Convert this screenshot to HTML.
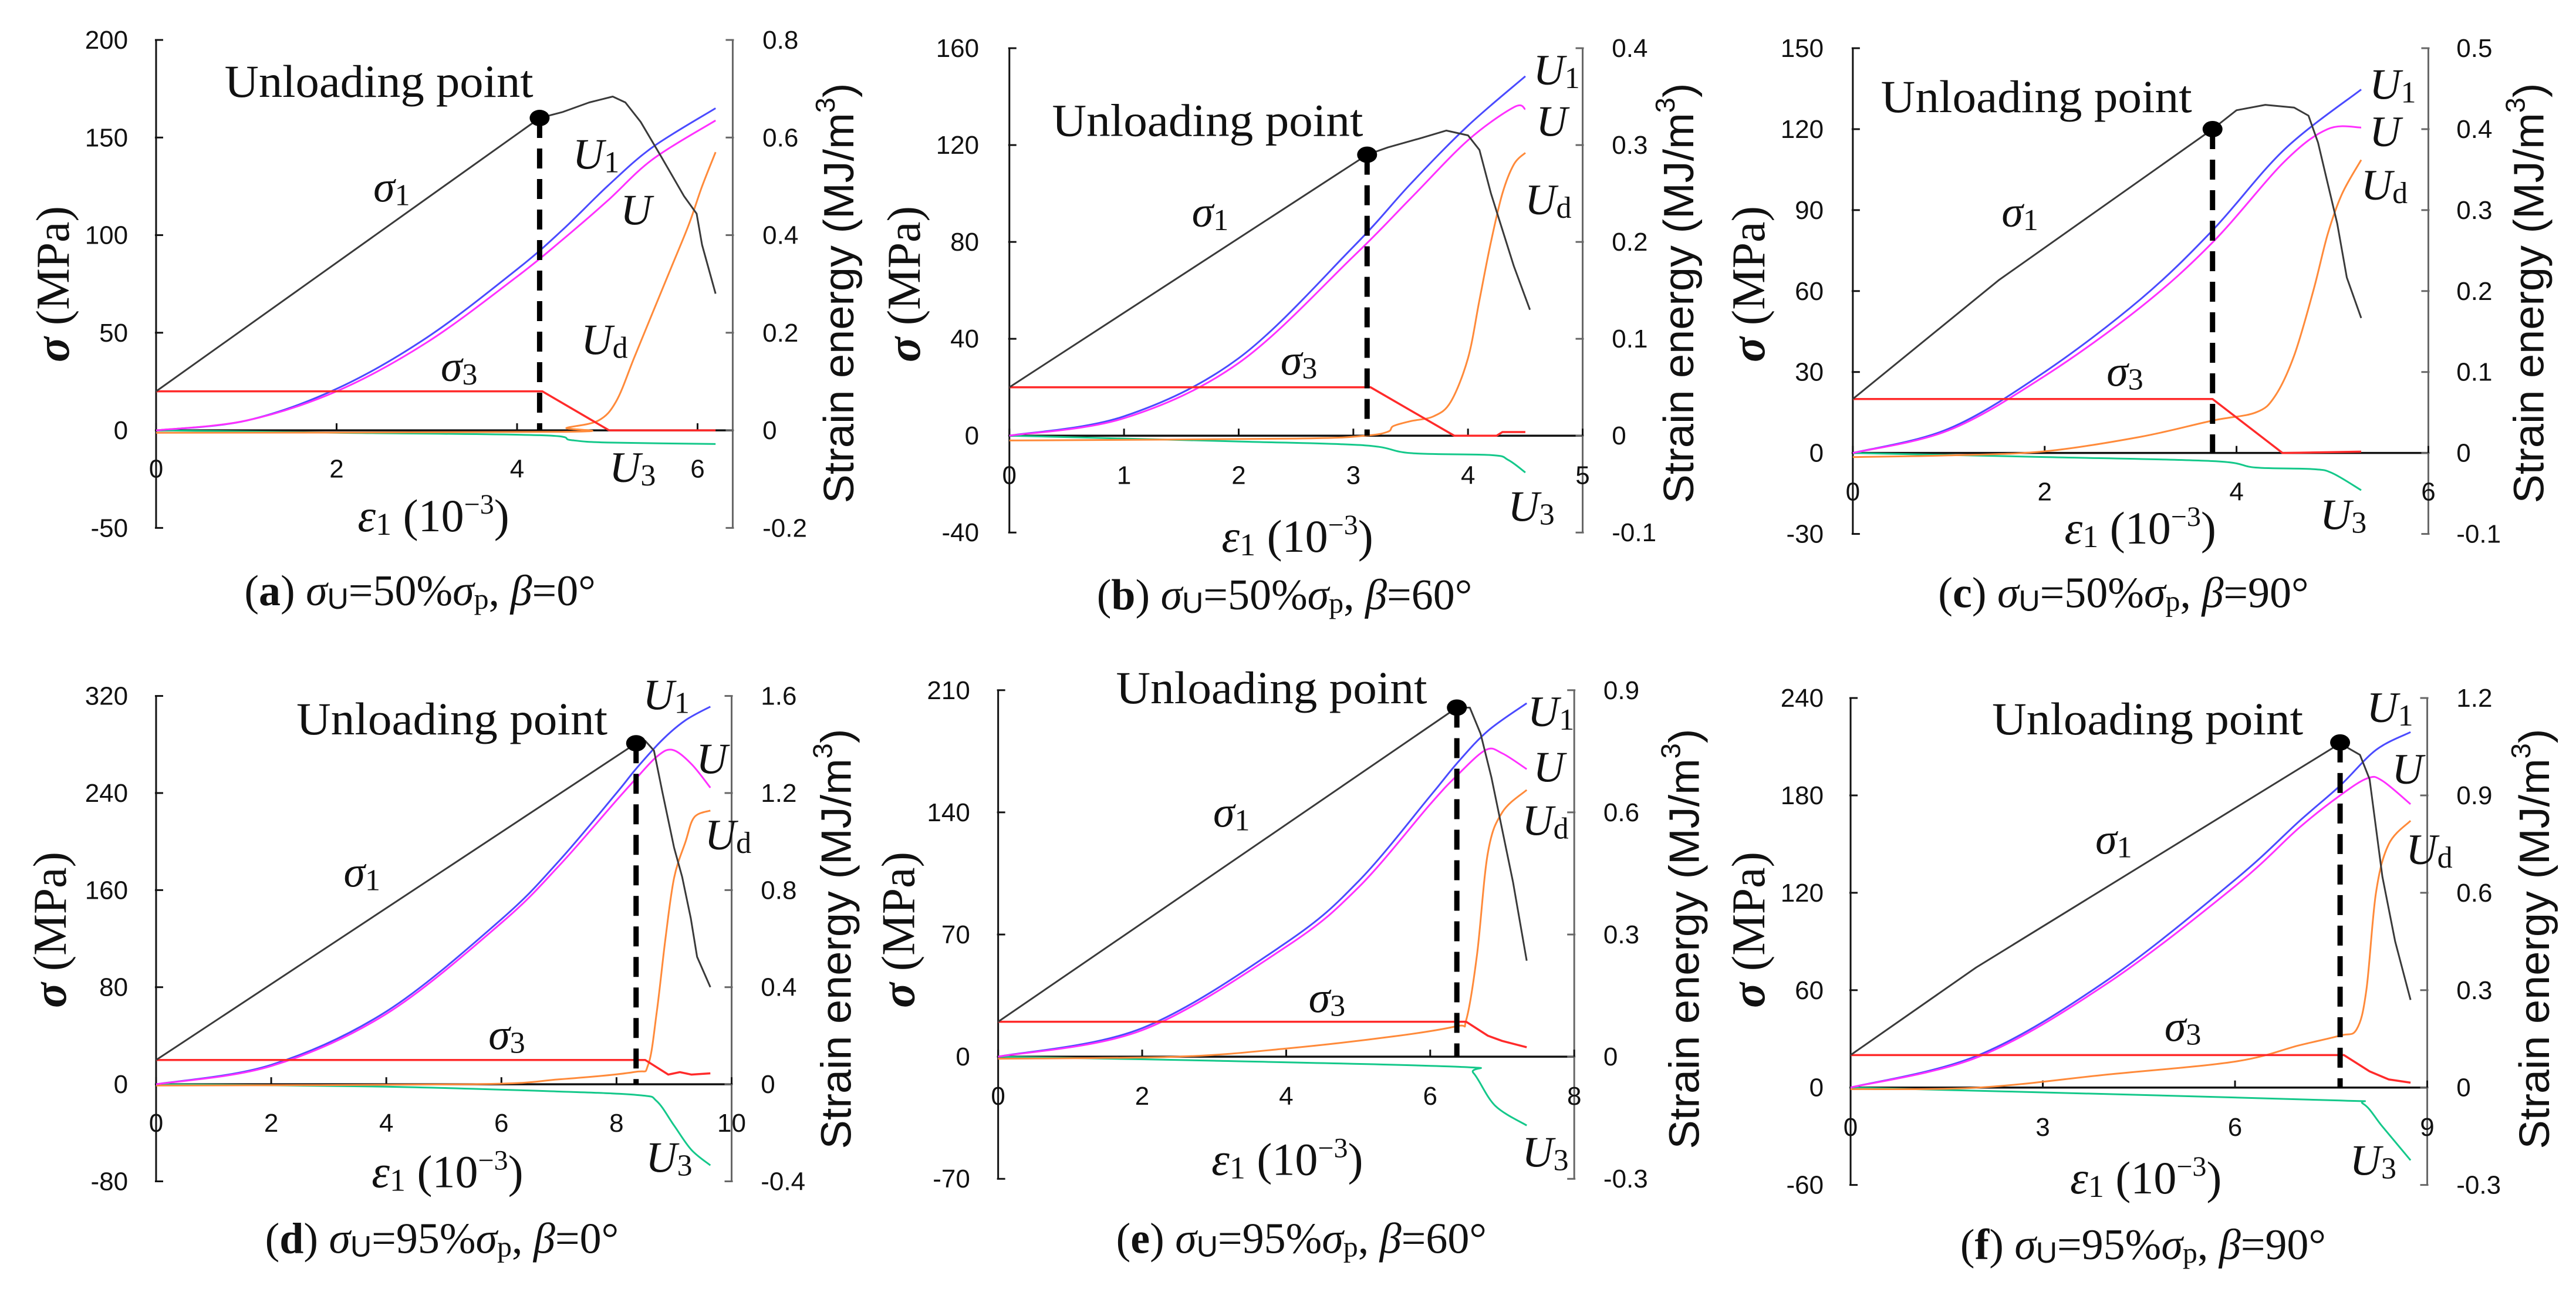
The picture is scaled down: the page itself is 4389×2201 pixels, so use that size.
<!DOCTYPE html>
<html><head><meta charset="utf-8"><style>
html,body{margin:0;padding:0;background:#fff;}
svg{display:block;}
text{font-family:"Liberation Serif",serif;fill:#111;}
.sans{font-family:"Liberation Sans",sans-serif;}
</style></head><body>
<svg id="fig" xmlns="http://www.w3.org/2000/svg" width="4389" height="2201" viewBox="0 0 4389 2201">
<rect width="4389" height="2201" fill="#fff"/>
</svg>
<script>
// ---------- DATA (strain in 1e-3, stress in MPa, energy in MJ/m3) ----------
const a_sig1=[[0,20],[4.25,160],[4.5,163],[4.8,168],[5.06,171],[5.2,168],[5.37,158],[5.6,140],[5.85,120],[5.99,111],[6.05,95],[6.2,70]];
const a_sig3=[[0,20],[4.28,20],[5.02,0],[6.2,0]];
const a_U1=[[0,0],[1,0.02],[2,0.085],[3,0.19],[4,0.33],[4.5,0.41],[5,0.5],[5.5,0.58],[6.2,0.66]];
const a_U=[[0,0],[1,0.02],[2,0.08],[3,0.18],[4,0.315],[4.5,0.39],[5,0.47],[5.5,0.555],[6.2,0.635]];
const a_Ud=[[0,-0.005],[4.5,-0.003],[4.55,0.005],[4.9,0.02],[5.1,0.06],[5.3,0.15],[5.5,0.24],[5.7,0.33],[5.9,0.42],[6.05,0.5],[6.2,0.57]];
const a_U3=[[0,0],[2,-0.005],[4.25,-0.01],[4.6,-0.02],[5,-0.025],[6.2,-0.028]];
const a_unload=[4.25,160];

const b_sig1=[[0,20],[3.12,116],[3.3,119],[3.6,123],[3.81,126],[4.0,124],[4.1,118],[4.2,100],[4.3,85],[4.4,70],[4.54,52]];
const b_sig3=[[0,20],[3.15,20],[3.88,0],[4.25,0],[4.3,1.5],[4.5,1.5]];
const b_U1=[[0,0],[1,0.02],[2,0.08],[3,0.195],[3.5,0.26],[4,0.32],[4.5,0.371]];
const b_U=[[0,0],[1,0.018],[2,0.075],[3,0.185],[3.5,0.245],[4,0.305],[4.4,0.339],[4.5,0.337]];
const b_Ud=[[0,-0.005],[2.5,-0.003],[3.1,0],[3.3,0.004],[3.35,0.01],[3.5,0.015],[3.7,0.02],[3.85,0.035],[4.0,0.08],[4.1,0.14],[4.2,0.2],[4.3,0.25],[4.4,0.28],[4.5,0.292]];
const b_U3=[[0,0],[2,-0.006],[3.1,-0.01],[3.5,-0.018],[4.2,-0.02],[4.35,-0.025],[4.5,-0.038]];
const b_unload=[3.12,116];

const c_sig1=[[0,20],[1.52,64],[3.75,120],[4.0,127],[4.3,129],[4.6,128],[4.75,125],[4.85,115],[4.95,100],[5.05,85],[5.15,65],[5.3,50]];
const c_sig3=[[0,20],[3.75,20],[4.48,0],[5.3,0.5]];
const c_U1=[[0,0],[1,0.03],[2,0.1],[3,0.19],[3.75,0.275],[4.5,0.375],[5.3,0.449]];
const c_U=[[0,0],[1,0.028],[2,0.095],[3,0.18],[3.75,0.26],[4.5,0.36],[4.95,0.4],[5.3,0.402]];
const c_Ud=[[0,-0.005],[1,-0.003],[2,0.002],[3,0.02],[3.75,0.04],[4.2,0.05],[4.4,0.07],[4.6,0.12],[4.8,0.2],[4.95,0.27],[5.1,0.32],[5.3,0.362]];
const c_U3=[[0,0],[2,-0.005],[3.75,-0.01],[4.2,-0.018],[4.8,-0.02],[5.0,-0.025],[5.3,-0.046]];
const c_unload=[3.75,120];

const d_sig1=[[0,20],[8.34,281],[8.5,283],[8.65,275],[8.8,240],[9.0,195],[9.14,171],[9.29,137],[9.4,105],[9.63,80]];
const d_sig3=[[0,20],[8.5,20],[8.9,8],[9.1,10],[9.3,8],[9.63,9]];
const d_U1=[[0,0],[2,0.08],[4,0.3],[6,0.68],[7,0.92],[8,1.2],[8.34,1.3],[8.8,1.42],[9.2,1.5],[9.63,1.556]];
const d_U=[[0,0],[2,0.075],[4,0.29],[6,0.665],[7,0.9],[8,1.17],[8.34,1.26],[8.7,1.35],[8.97,1.378],[9.3,1.32],[9.63,1.222]];
const d_Ud=[[0,-0.005],[5.5,0],[7,0.02],[8.3,0.05],[8.55,0.08],[8.7,0.3],[8.85,0.6],[9.0,0.85],[9.2,1.0],[9.35,1.1],[9.63,1.128]];
const d_U3=[[0,0],[4,-0.01],[7,-0.03],[8.4,-0.045],[8.7,-0.07],[9.0,-0.17],[9.3,-0.27],[9.63,-0.334]];
const d_unload=[8.34,281];

const e_sig1=[[0,20],[6.37,200],[6.55,200],[6.7,185],[6.85,160],[7.0,130],[7.15,100],[7.34,55]];
const e_sig3=[[0,20],[6.5,20],[6.8,12],[7.0,9],[7.34,5.4]];
const e_U1=[[0,0],[2,0.07],[4,0.28],[5,0.43],[6,0.64],[6.37,0.72],[6.8,0.8],[7.34,0.868]];
const e_U=[[0,0],[2,0.065],[4,0.27],[5,0.415],[6,0.62],[6.37,0.69],[6.77,0.753],[7.0,0.745],[7.34,0.706]];
const e_Ud=[[0,-0.005],[2.5,0],[4,0.02],[5.5,0.05],[6.37,0.075],[6.5,0.09],[6.65,0.25],[6.8,0.5],[7.0,0.6],[7.34,0.655]];
const e_U3=[[0,0],[3,-0.01],[6.4,-0.025],[6.6,-0.04],[6.9,-0.12],[7.34,-0.169]];
const e_unload=[6.37,200];

const f_sig1=[[0,20],[1.96,74],[7.64,212],[7.95,205],[8.1,190],[8.3,130],[8.5,90],[8.74,54]];
const f_sig3=[[0,20],[7.7,20],[8.1,10],[8.4,5],[8.74,3]];
const f_U1=[[0,0],[2,0.1],[4,0.33],[6,0.64],[7,0.82],[7.64,0.93],[8.2,1.04],[8.74,1.095]];
const f_U=[[0,0],[2,0.095],[4,0.32],[6,0.62],[7,0.8],[7.64,0.9],[8.07,0.953],[8.3,0.945],[8.74,0.873]];
const f_Ud=[[0,-0.005],[2,0],[4,0.04],[6,0.08],[7,0.13],[7.64,0.16],[7.9,0.18],[8.05,0.3],[8.2,0.6],[8.4,0.75],[8.74,0.822]];
const f_U3=[[0,0],[4,-0.02],[7.64,-0.04],[8.0,-0.05],[8.3,-0.12],[8.74,-0.224]];
const f_unload=[7.64,212.6];

const a_xticks=[0,2,4,6], b_xticks=[0,1,2,3,4,5], c_xticks=[0,2,4,6], d_xticks=[0,2,4,6,8,10], e_xticks=[0,2,4,6,8], f_xticks=[0,3,6,9];
const a_yticks=[-50,0,50,100,150,200], b_yticks=[-40,0,40,80,120,160], c_yticks=[-30,0,30,60,90,120,150], d_yticks=[-80,0,80,160,240,320], e_yticks=[-70,0,70,140,210], f_yticks=[-60,0,60,120,180,240];
const a_eticks=["-0.2","0","0.2","0.4","0.6","0.8"], b_eticks=["-0.1","0","0.1","0.2","0.3","0.4"], c_eticks=["-0.1","0","0.1","0.2","0.3","0.4","0.5"], d_eticks=["-0.4","0","0.4","0.8","1.2","1.6"], e_eticks=["-0.3","0","0.3","0.6","0.9"], f_eticks=["-0.3","0","0.3","0.6","0.9","1.2"];

// ---------- LAYOUT ----------
const SX=1.0453, SY=1.4255;
const panels=[
 {id:'a',off:[0,0],zl:278,zr:1305,xmax:6.39,yt:97,yz:1045,ymax:200,ymin:-50,emax:0.8,
  d:{s1:a_sig1,s3:a_sig3,U1:a_U1,U:a_U,Ud:a_Ud,U3:a_U3,pt:a_unload,xt:a_xticks,yt:a_yticks,et:a_eticks},
  cap:['a','50','0'],tickY:1160,lx:228,rx:1358,ltx:95,rtx:1495,xt:[772,1290],cp:[748,1470],
  L:{up:[400,235],s1:[665,490],U1:[1020,410],U:[1105,545],Ud:[1035,860],s3:[785,925],U3:[1085,1170]}},
 {id:'b',off:[1450,0],zl:282,zr:1303,xmax:5,yt:117,yz:1058,ymax:160,ymin:-40,emax:0.4,
  d:{s1:b_sig1,s3:b_sig3,U1:b_U1,U:b_U,Ud:b_Ud,U3:b_U3,pt:b_unload,xt:b_xticks,yt:b_yticks,et:b_eticks},
  cap:['b','50','60'],tickY:1175,lx:228,rx:1355,ltx:95,rtx:1475,xt:[795,1340],cp:[772,1480],
  L:{up:[358,330],s1:[607,550],U1:[1215,205],U:[1220,330],Ud:[1200,520],s3:[765,910],U3:[1170,1265]}},
 {id:'c',off:[2889,0],zl:280,zr:1305,xmax:6,yt:117,yz:1100,ymax:150,ymin:-30,emax:0.5,
  d:{s1:c_sig1,s3:c_sig3,U1:c_U1,U:c_U,Ud:c_Ud,U3:c_U3,pt:c_unload,xt:c_xticks,yt:c_yticks,et:c_eticks},
  cap:['c','50','90'],tickY:1215,lx:228,rx:1355,ltx:95,rtx:1485,xt:[792,1320],cp:[762,1475],
  L:{up:[330,272],s1:[545,550],U1:[1200,240],U:[1200,355],Ud:[1185,485],s3:[732,937],U3:[1112,1285]}},
 {id:'d',off:[0,1100],zl:278,zr:1303,xmax:10,yt:122,yz:1065,ymax:320,ymin:-80,emax:1.6,
  d:{s1:d_sig1,s3:d_sig3,U1:d_U1,U:d_U,Ud:d_Ud,U3:d_U3,pt:d_unload,xt:d_xticks,yt:d_yticks,et:d_eticks},
  cap:['d','95','0'],tickY:1180,lx:228,rx:1355,ltx:90,rtx:1490,xt:[797,1315],cp:[787,1475],
  L:{up:[528,215],s1:[612,585],U1:[1145,155],U:[1240,310],Ud:[1255,495],s3:[870,980],U3:[1150,1278]}},
 {id:'e',off:[1450,1100],zl:262,zr:1288,xmax:8,yt:108,yz:998,ymax:210,ymin:-70,emax:0.9,
  d:{s1:e_sig1,s3:e_sig3,U1:e_U1,U:e_U,Ud:e_Ud,U3:e_U3,pt:e_unload,xt:e_xticks,yt:e_yticks,et:e_eticks},
  cap:['e','95','60'],tickY:1115,lx:212,rx:1340,ltx:85,rtx:1485,xt:[777,1285],cp:[802,1475],
  L:{up:[472,140],s1:[645,440],U1:[1205,195],U:[1215,330],Ud:[1195,460],s3:[815,890],U3:[1195,1265]}},
 {id:'f',off:[2889,1100],zl:276,zr:1303,xmax:9,yt:127,yz:1073,ymax:240,ymin:-60,emax:1.2,
  d:{s1:f_sig1,s3:f_sig3,U1:f_U1,U:f_U,Ud:f_Ud,U3:f_U3,pt:f_unload,xt:f_xticks,yt:f_yticks,et:f_eticks},
  cap:['f','95','90'],tickY:1190,lx:228,rx:1355,ltx:95,rtx:1495,xt:[802,1330],cp:[797,1490],
  L:{up:[528,215],s1:[712,505],U1:[1195,185],U:[1240,335],Ud:[1265,530],s3:[835,960],U3:[1165,1285]}}
];

const svg=document.getElementById('fig');
const NS='http://www.w3.org/2000/svg';
function mk(tag,attrs,parent){const el=document.createElementNS(NS,tag);for(const k in attrs)el.setAttribute(k,attrs[k]);(parent||svg).appendChild(el);return el;}
function PX(p,z){return p.off[0]+z/SX;}
function PY(p,z){return p.off[1]+z/SY;}
function X(p,x){return PX(p,p.zl+x/p.xmax*(p.zr-p.zl));}
function Y(p,v){return PY(p,p.yz-v/p.ymax*(p.yz-p.yt));}
function E(p,e){return PY(p,p.yz-e/p.emax*(p.yz-p.yt));}
function smoothPath(P){
  let d='M'+P[0][0].toFixed(1)+','+P[0][1].toFixed(1);
  for(let i=0;i<P.length-1;i++){
    const p0=P[Math.max(0,i-1)],p1=P[i],p2=P[i+1],p3=P[Math.min(P.length-1,i+2)];
    const c1x=p1[0]+(p2[0]-p0[0])/6,c1y=p1[1]+(p2[1]-p0[1])/6;
    const c2x=p2[0]-(p3[0]-p1[0])/6,c2y=p2[1]-(p3[1]-p1[1])/6;
    d+=' C'+c1x.toFixed(1)+','+c1y.toFixed(1)+' '+c2x.toFixed(1)+','+c2y.toFixed(1)+' '+p2[0].toFixed(1)+','+p2[1].toFixed(1);
  }
  return d;
}

const colors={s1:'#3a3a3a',s3:'#ff2a2a',U1:'#4a4aff',U:'#ff30ff',Ud:'#ff8a3a',U3:'#14c88a'};
const names={s1:'sigma1-curve',s3:'sigma3-curve',U1:'u1-curve',U:'u-curve',Ud:'ud-curve',U3:'u3-curve'};

panels.forEach(p=>{
  const g=mk('g',{});
  
  
  const x0=X(p,0), x1=PX(p,p.zr), yTop=Y(p,p.ymax), yBot=Y(p,p.ymin), y0=Y(p,0);
  const la=mk('line',{x1:x0,y1:yTop,x2:x0,y2:yBot,stroke:'#111','stroke-width':3},g);
  
  
  const ra=mk('line',{x1:x1,y1:yTop,x2:x1,y2:yBot,stroke:'#666','stroke-width':3},g);
  
  
  const xa=mk('line',{x1:x0,y1:y0,x2:x1,y2:y0,stroke:'#111','stroke-width':3.5},g);
  
  
  p.d.yt.forEach((v,i)=>{
    const y=Y(p,v);
    const t=mk('line',{x1:x0-2,y1:y,x2:x0+12,y2:y,stroke:'#111','stroke-width':3},g);
    
    
    const t2=mk('line',{x1:x1-12,y1:y,x2:x1+2,y2:y,stroke:'#666','stroke-width':3},g);
    
    
    const tl=mk('text',{x:PX(p,p.lx),y:y+15,'text-anchor':'end','font-size':44,class:'sans'},g);
    tl.textContent=String(v);
    
    
    const tr=mk('text',{x:PX(p,p.rx),y:y+15,'text-anchor':'start','font-size':44,class:'sans'},g);
    tr.textContent=p.d.et[i];
    
    
  });
  p.d.xt.forEach(v=>{
    const x=X(p,v);
    const t=mk('line',{x1:x,y1:y0,x2:x,y2:y0-12,stroke:'#111','stroke-width':3},g);
    
    
    const tl=mk('text',{x:x,y:PY(p,p.tickY),'text-anchor':'middle','font-size':44,class:'sans'},g);
    tl.textContent=String(v);
    
    
  });
  ['U3','Ud','U1','U','s3','s1'].forEach(k=>{
    const pts=p.d[k];
    const energy=(k[0]==='U');
    const P=pts.map(q=>[X(p,q[0]), energy?E(p,q[1]):Y(p,q[1])]);
    let el;
    if(energy){
      el=mk('path',{d:smoothPath(P),fill:'none',stroke:colors[k],'stroke-width':3,'stroke-linejoin':'round'},g);
    } else {
      el=mk('polyline',{points:P.map(q=>q[0].toFixed(1)+','+q[1].toFixed(1)).join(' '),fill:'none',stroke:colors[k],'stroke-width':k==='s3'?3.5:3,'stroke-linejoin':'round'},g);
    }
    
    
  });
  const ux=X(p,p.d.pt[0]), uy=Y(p,p.d.pt[1]);
  const dl=mk('line',{x1:ux,y1:uy,x2:ux,y2:y0,stroke:'#000','stroke-width':9,'stroke-dasharray':'34,18'},g);
  
  
  const dot=mk('ellipse',{cx:ux,cy:uy,rx:17,ry:14,fill:'#000'},g);
  
  
  const L=p.L;
  const up=mk('text',{x:PX(p,L.up[0]),y:PY(p,L.up[1]),'font-size':78,textLength:(p.id==='a'?526:530),lengthAdjust:'spacingAndGlyphs'},g);
  up.textContent='Unloading point';
  
  
  const lab=(key,main,sub,dname)=>{
    const t=mk('text',{x:PX(p,L[key][0]),y:PY(p,L[key][1]),'font-size':74},g);
    t.innerHTML='<tspan font-style="italic">'+main+'</tspan><tspan font-size="52" dy="6">'+sub+'</tspan>';
    
    
  };
  lab('s1','σ','1','sigma1-label');
  lab('s3','σ','3','sigma3-label');
  lab('U1','U','1','u1-label');
  lab('U','U','','u-label');
  lab('Ud','U','d','ud-label');
  lab('U3','U','3','u3-label');
  const ltx=PX(p,p.ltx), lty=PY(p,690);
  const lt=mk('text',{x:ltx,y:lty,'font-size':80,'text-anchor':'middle','dominant-baseline':'central',transform:'rotate(-90 '+ltx+' '+lty+')',textLength:266,lengthAdjust:'spacingAndGlyphs'},g);
  lt.innerHTML='<tspan font-style="italic" font-weight="bold">σ</tspan> (MPa)';
  
  
  const rtx=PX(p,p.rtx), rty=PY(p,712);
  const rt=mk('text',{x:rtx,y:rty,'font-size':72,'text-anchor':'middle','dominant-baseline':'central',transform:'rotate(-90 '+rtx+' '+rty+')',class:'sans',textLength:716,lengthAdjust:'spacingAndGlyphs'},g);
  rt.innerHTML='Strain energy (MJ/m<tspan font-size="46" dy="-24">3</tspan><tspan dy="24">)</tspan>';
  
  
  const xt=mk('text',{x:PX(p,p.xt[0]),y:PY(p,p.xt[1]),'font-size':78,'text-anchor':'middle'},g);
  xt.innerHTML='<tspan font-style="italic">ε</tspan><tspan font-size="54" dy="6">1</tspan><tspan dy="-6"> (10</tspan><tspan font-size="48" dy="-30">−3</tspan><tspan dy="30">)</tspan>';
  
  
  const cp=mk('text',{x:PX(p,p.cp[0]),y:PY(p,p.cp[1]),'font-size':74,'text-anchor':'middle'},g);
  cp.innerHTML='(<tspan font-weight="bold">'+p.cap[0]+'</tspan>) <tspan font-style="italic">σ</tspan><tspan font-size="50" dy="6" font-family="Liberation Sans, sans-serif">U</tspan><tspan dy="-6">='+p.cap[1]+'%</tspan><tspan font-style="italic">σ</tspan><tspan font-size="50" dy="6">p</tspan><tspan dy="-6">, </tspan><tspan font-style="italic">β</tspan>='+p.cap[2]+'°';
  
  
});
</script>
</body></html>
